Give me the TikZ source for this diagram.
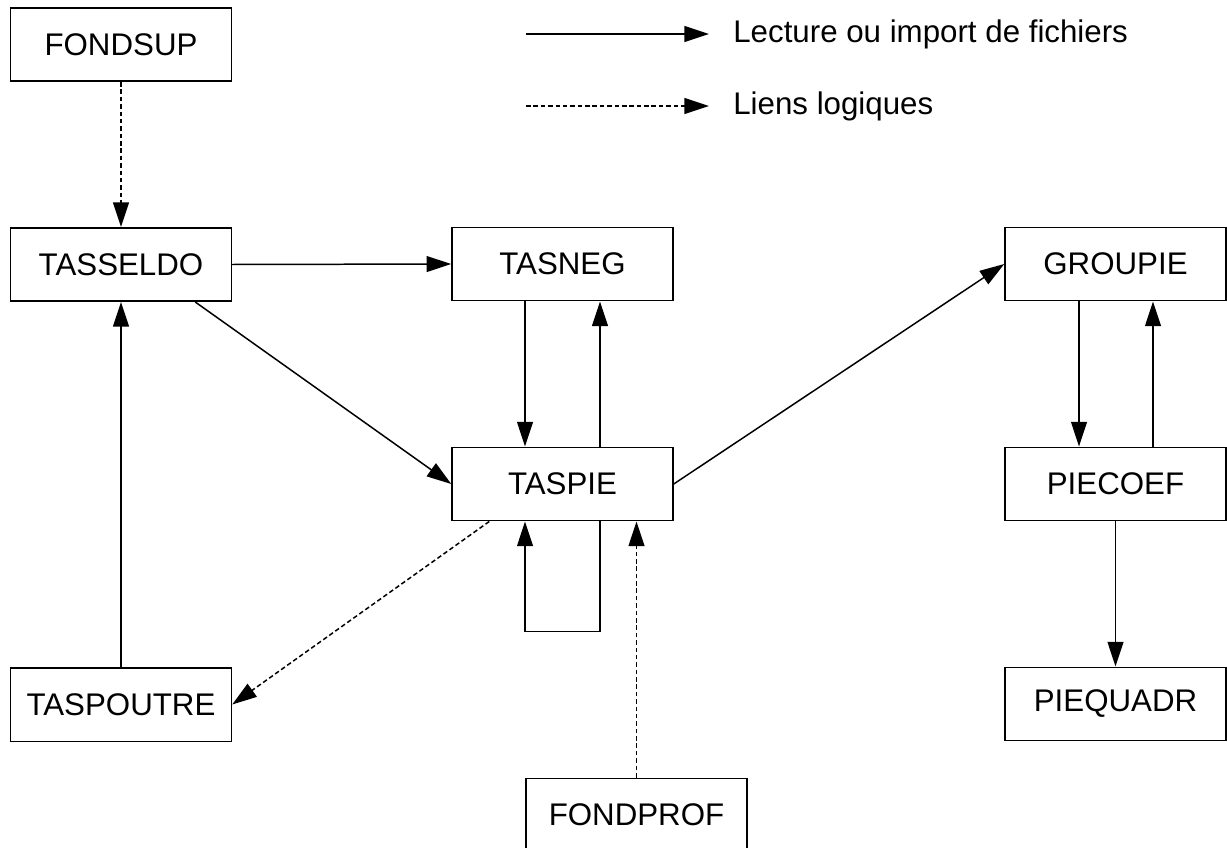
\documentclass[tikz,border=0pt]{standalone}
\usepackage{fontspec}
\setmainfont{Liberation Sans}
\usetikzlibrary{arrows.meta}
\begin{document}
\begin{tikzpicture}[x=0.02cm,y=-0.02cm,
  box/.style={draw,line width=0.85pt,minimum width=4.42cm,minimum height=1.47cm,inner sep=0pt,font=\fontsize{17.8}{20}\selectfont},
  flow/.style={line width=0.85pt,-{Triangle[length=14pt,width=9pt]}},
  logic/.style={flow,dash pattern=on 2.6pt off 1.6pt},
  legtext/.style={anchor=west,inner sep=0pt,font=\fontsize{17.8}{20}\selectfont}]
\clip (0,0) rectangle (1227,848);
\fill[white] (0,0) rectangle (1227,848);
\node[box] (fondsup) at (121,44.5) {FONDSUP};
\node[box] (tasseldo) at (121,264.5) {TASSELDO};
\node[box] (tasneg) at (562.5,264) {TASNEG};
\node[box] (groupie) at (1115.5,264) {GROUPIE};
\node[box] (taspie) at (562.5,484) {TASPIE};
\node[box] (piecoef) at (1115.5,484) {PIECOEF};
\node[box] (taspoutre) at (121,704.5) {TASPOUTRE};
\node[box] (piequadr) at (1115.5,704) {PIEQUADR};
\node[box] (fondprof) at (636.5,815) {FONDPROF};
% legend
\coordinate (l1a) at (526,34);
\coordinate (l1b) at (709,34);
\coordinate (l2a) at (526,106);
\coordinate (l2b) at (709,106);
\node[legtext] (leg1) at (733,34) {Lecture ou import de fichiers};
\node[legtext] (leg2) at (733,106) {Liens logiques};
\draw[flow] (l1a) -- (l1b);
\draw[logic] (l2a) -- (l2b);
% connectors
\draw[logic] (fondsup.south) -- (tasseldo.north);
\draw[flow] (tasseldo.east) -- (tasneg.west);
\draw[flow] ([xshift=-0.74cm]tasseldo.south east) -- (taspie.west);
\draw[flow] ([xshift=-0.75cm]tasneg.south) -- ([xshift=-0.75cm]taspie.north);
\draw[flow] ([xshift=0.75cm]taspie.north) -- ([xshift=0.75cm]tasneg.south);
\draw[flow] (taspie.east) -- (groupie.west);
\draw[flow] ([xshift=-0.73cm]groupie.south) -- ([xshift=-0.73cm]piecoef.north);
\draw[flow] ([xshift=0.75cm]piecoef.north) -- ([xshift=0.75cm]groupie.south);
\draw[flow] (piecoef.south) -- (piequadr.north);
\draw[flow] (taspoutre.north) -- (tasseldo.south);
\draw[logic] ([xshift=0.76cm]taspie.south west) -- (taspoutre.east);
\draw[flow] ([xshift=0.75cm]taspie.south) -- ++(0,110) -| ([xshift=-0.75cm]taspie.south);
\draw[logic] (fondprof.north) -- (fondprof.north |- taspie.south);
\end{tikzpicture}
\end{document}
